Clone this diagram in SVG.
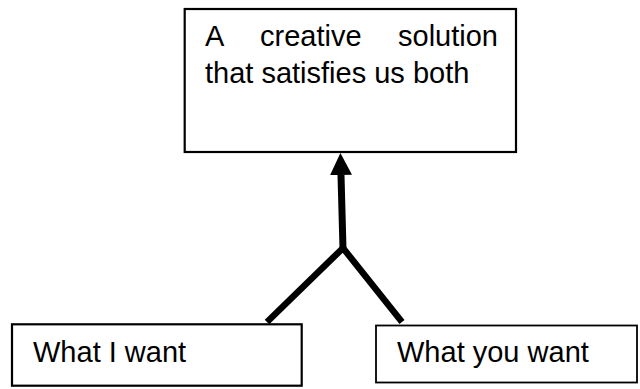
<svg xmlns="http://www.w3.org/2000/svg" width="640" height="389" viewBox="0 0 640 389">
<style>
.box{fill:#fff;stroke:#000;stroke-width:2.2}
.thin{stroke-width:1.8}
.lbl{font-family:"Liberation Sans",Arial,sans-serif;font-size:29px;fill:#000}
.conn{fill:none;stroke:#000;stroke-linejoin:miter}
</style>
<defs>
<marker id="ah" markerUnits="userSpaceOnUse" markerWidth="22" markerHeight="22" refX="0" refY="11" orient="auto" viewBox="0 0 22 22">
<path d="M0,0 L22,11 L0,22 z" fill="#000"/>
</marker>
</defs>
<rect width="640" height="389" fill="#fff"/>
<g id="solution">
<rect class="box" x="184.7" y="9" width="331.3" height="143"/>
<text class="lbl" y="46"><tspan x="205">A</tspan><tspan x="260">creative</tspan><tspan x="398">solution</tspan></text>
<text class="lbl" x="205" y="83">that satisfies us both</text>
</g>
<g id="iwant">
<rect class="box" x="12" y="324.3" width="289.7" height="61.4"/>
<text class="lbl" x="33" y="362">What I want</text>
</g>
<g id="youwant">
<rect class="box thin" x="376" y="325.5" width="261" height="57"/>
<text class="lbl" x="397" y="362">What you want</text>
</g>
<g id="connectors">
<line class="conn" x1="343" y1="249" x2="341" y2="175" stroke-width="7" marker-end="url(#ah)"/>
<polyline class="conn" points="267,322 343,248 402,322" stroke-width="6.5"/>
</g>
</svg>
